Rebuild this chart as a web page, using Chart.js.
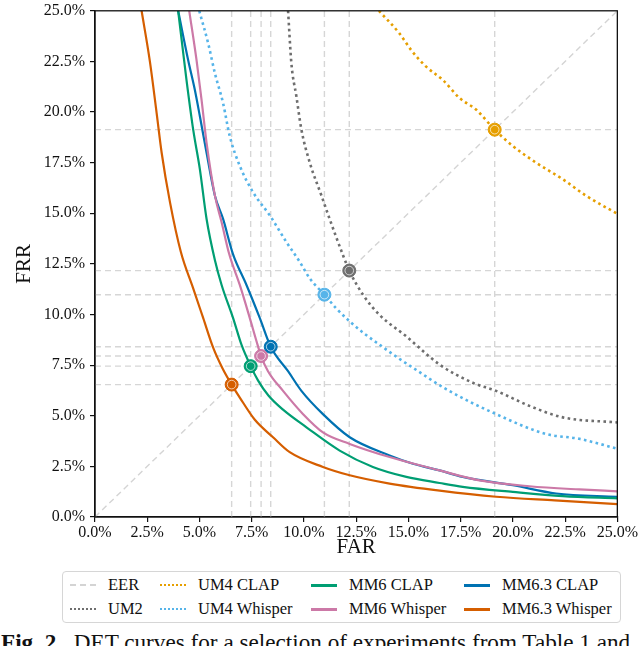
<!DOCTYPE html>
<html lang="en">
<head>
    <meta charset="UTF-8">
    <title>DET curves</title>
    <script src="https://cdn.jsdelivr.net/npm/chart.js"></script>
    <style>
        body {
            margin: 0;
            width: 640px;
            height: 646px;
            overflow: hidden;
            background: white;
            font-family: "Liberation Serif", "Times New Roman", serif;
            position: relative;
        }
        #wrap {
            position: absolute;
            left: 0;
            top: -3px;
            width: 640px;
            height: 563px;
        }
        #legend {
            position: absolute;
            left: 62px;
            top: 571px;
            width: 557px;
            height: 50px;
            border: 1px solid #d6d6d6;
            border-radius: 4px;
        }
        .item {
            position: absolute;
            font-family: "Liberation Serif", "Times New Roman", serif;
            font-size: 16.5px;
            line-height: 18px;
            color: #111;
            white-space: nowrap;
        }
        .sample {
            position: absolute;
            width: 26px;
            top: 8px;
        }
        .caption {
            position: absolute;
            left: 1px;
            top: 631px;
            font-family: "Liberation Serif", "Times New Roman", serif;
            font-size: 23.2px;
            line-height: 1;
            white-space: nowrap;
            color: #111;
        }
    </style>
</head>
<body>
    <div id="wrap"><canvas id="det"></canvas></div>
    <div id="legend"></div>
    <div class="caption"><b>Fig. 2.</b>&nbsp; DET curves for a selection of experiments from Table 1 and</div>

    <script>
        // values, in percent
        const um2Far = [9.24, 9.40, 9.64, 9.88, 10.28, 10.84, 11.23, 11.87, 12.17, 12.83, 13.62, 14.9, 16.49, 18.08, 19.2, 20.79, 22.39, 25.0];
        const um2Frr = [25.0, 22.40, 20.77, 19.13, 17.5, 15.87, 14.72, 12.93, 12.17, 10.97, 9.98, 8.92, 7.53, 6.63, 6.23, 5.49, 4.92, 4.67];

        const um4ClapFar = [13.59, 14.58, 15.14, 15.85, 16.65, 17.45, 18.25, 19.13, 20.0, 21.11, 22.39, 23.5, 25.0];
        const um4ClapFrr = [25.0, 23.87, 23.05, 22.24, 21.58, 20.69, 20.11, 19.13, 18.32, 17.5, 16.68, 15.87, 14.97];

        const um4WhisperFar = [4.99, 5.42, 5.74, 6.13, 6.45, 6.93, 7.57, 8.37, 9.16, 9.8, 10.28, 10.98, 11.55, 12.19, 12.9, 13.7, 14.5, 15.22, 16.81, 19.2, 21.59, 23.18, 25.0];
        const um4WhisperFrr = [25.0, 23.38, 21.91, 20.44, 18.81, 17.34, 16.03, 14.89, 13.58, 12.6, 11.78, 10.98, 10.3, 9.66, 9.05, 8.45, 7.86, 7.37, 6.31, 5.08, 4.10, 3.86, 3.37];

        const mm6ClapFar = [3.98, 4.38, 4.70, 5.02, 5.34, 5.74, 6.06, 6.61, 7.01, 7.45, 7.8, 8.3, 9.0, 10.12, 11.71, 13.3, 14.9, 16.49, 17.6, 20.0, 22.39, 25.0];
        const mm6ClapFrr = [25.0, 21.58, 19.13, 17.17, 14.72, 12.68, 11.46, 9.82, 8.51, 7.45, 6.75, 6.0, 5.3, 4.43, 3.28, 2.47, 1.98, 1.68, 1.49, 1.24, 1.03, 0.92];

        const mm6WhisperFar = [4.51, 4.86, 5.1, 5.34, 5.74, 6.06, 6.42, 6.93, 7.41, 7.73, 7.95, 8.28, 9.0, 9.96, 10.91, 12.19, 14.1, 16.49, 18.4, 20.79, 23.18, 25.0];
        const mm6WhisperFrr = [25.0, 22.56, 20.60, 18.48, 15.87, 14.56, 13.0, 11.46, 9.82, 8.68, 7.95, 7.2, 6.23, 5.08, 4.18, 3.61, 2.96, 2.30, 1.81, 1.52, 1.36, 1.27];

        const mm63ClapFar = [3.98, 4.46, 4.78, 5.02, 5.34, 5.74, 6.13, 6.6, 7.25, 7.89, 8.41, 9.24, 9.88, 10.91, 12.19, 14.1, 15.22, 16.49, 17.6, 20.0, 22.07, 25.0];
        const mm63ClapFrr = [25.0, 22.56, 21.09, 19.79, 17.99, 15.87, 14.72, 13.0, 11.46, 9.82, 8.41, 7.2, 6.23, 5.08, 3.94, 3.04, 2.63, 2.30, 1.98, 1.57, 1.16, 1.0];

        const mm63WhisperFar = [2.23, 2.63, 2.95, 3.19, 3.59, 4.11, 4.70, 5.18, 5.66, 6.1, 6.54, 6.93, 7.65, 8.52, 9.32, 10.91, 12.19, 14.1, 16.5, 19.2, 22.0, 25.0];
        const mm63WhisperFrr = [25.0, 22.48, 19.95, 17.99, 15.54, 13.09, 11.29, 9.82, 8.35, 7.35, 6.54, 5.90, 4.80, 3.94, 3.20, 2.47, 2.06, 1.65, 1.30, 1.0, 0.82, 0.64];

        const seriesNames = ['UM2', 'UM4 CLAP', 'UM4 Whisper', 'MM6 CLAP', 'MM6 Whisper', 'MM6.3 CLAP', 'MM6.3 Whisper'];
        const eerValues = [12.17, 19.13, 10.98, 7.45, 7.95, 8.41, 6.54];
        const axisTicks = [0, 2.5, 5, 7.5, 10, 12.5, 15, 17.5, 20, 22.5, 25];

        const series = [
            { far: um2Far, frr: um2Frr, color: '#6e6e6e', dotted: true },
            { far: um4ClapFar, frr: um4ClapFrr, color: '#E69F00', dotted: true },
            { far: um4WhisperFar, frr: um4WhisperFrr, color: '#56B4E9', dotted: true },
            { far: mm6ClapFar, frr: mm6ClapFrr, color: '#009E73', dotted: false },
            { far: mm6WhisperFar, frr: mm6WhisperFrr, color: '#CC79A7', dotted: false },
            { far: mm63ClapFar, frr: mm63ClapFrr, color: '#0072B2', dotted: false },
            { far: mm63WhisperFar, frr: mm63WhisperFrr, color: '#D55E00', dotted: false }
        ];

        const toPoints = (xs, ys) => xs.map((x, i) => ({ x: x, y: ys[i] }));
        const guideColor = '#d6d6d6';
        const serif = '"Liberation Serif", "Times New Roman", serif';
        const datasets = [];

        // EER guide lines (lowest layer)
        eerValues.forEach(e => {
            datasets.push({ data: [{ x: e, y: 0 }, { x: e, y: 25 }], showLine: true, borderColor: guideColor, borderWidth: 1.4, borderDash: [6, 4], pointRadius: 0, order: 3 });
            datasets.push({ data: [{ x: 0, y: e }, { x: 25, y: e }], showLine: true, borderColor: guideColor, borderWidth: 1.4, borderDash: [6, 4], pointRadius: 0, order: 3 });
        });
        datasets.push({ data: [{ x: 0, y: 0 }, { x: 25, y: 25 }], showLine: true, borderColor: '#d4d4d4', borderWidth: 1.4, borderDash: [6, 4], pointRadius: 0, order: 3 });

        // curves
        series.forEach((s, i) => {
            datasets.push({
                label: seriesNames[i],
                data: toPoints(s.far, s.frr),
                showLine: true,
                cubicInterpolationMode: 'monotone',
                borderColor: s.color,
                borderWidth: s.dotted ? 2.6 : 2.2,
                borderDash: s.dotted ? [2.6, 3.4] : [],
                pointRadius: 0,
                order: 2
            });
        });

        // EER markers
        series.forEach((s, i) => {
            const p = [{ x: eerValues[i], y: eerValues[i] }];
            datasets.push({ data: p, showLine: false, pointRadius: 6.5, pointBackgroundColor: s.color, pointBorderColor: s.color, pointBorderWidth: 1, order: 1 });
            datasets.push({ data: p, showLine: false, pointRadius: 4.3, pointBackgroundColor: 'rgba(0,0,0,0)', pointBorderColor: 'rgba(255,255,255,0.75)', pointBorderWidth: 0.9, order: 0 });
        });

        const frame = {
            id: 'frame',
            afterDatasetsDraw(chart) {
                const a = chart.chartArea;
                const ctx = chart.ctx;
                ctx.save();
                ctx.strokeStyle = '#111';
                ctx.lineWidth = 1.3;
                ctx.strokeRect(a.left, a.top, a.right - a.left, a.bottom - a.top);
                ctx.restore();
            }
        };

        const pct = v => v.toFixed(1) + '%';
        const tickFont = { family: serif, size: 16, lineHeight: 1.1 };

        new Chart(document.getElementById('det'), {
            type: 'scatter',
            data: { datasets: datasets },
            options: {
                responsive: true,
                maintainAspectRatio: false,
                animation: false,
                events: [],
                layout: { padding: { left: 0, right: 22, top: 0, bottom: 0 } },
                plugins: { legend: { display: false }, tooltip: { enabled: false } },
                elements: { line: { tension: 0, fill: false } },
                scales: {
                    x: {
                        type: 'linear', min: 0, max: 25,
                        afterBuildTicks: sc => { sc.ticks = axisTicks.map(v => ({ value: v })); },
                        afterFit: sc => { sc.height = 43; },
                        ticks: { callback: pct, color: '#111', font: tickFont, padding: 2, maxRotation: 0, autoSkip: false },
                        grid: { drawOnChartArea: false, drawTicks: true, tickLength: 5, color: '#111', lineWidth: 1.2 },
                        border: { display: true, color: '#111', width: 1.3 },
                        title: { display: true, text: 'FAR', color: '#111', font: { family: serif, size: 21 }, padding: { top: 0, bottom: 0 } }
                    },
                    y: {
                        type: 'linear', min: 0, max: 25,
                        afterBuildTicks: sc => { sc.ticks = axisTicks.map(v => ({ value: v })); },
                        afterFit: sc => { sc.width = 95; },
                        ticks: { callback: pct, color: '#111', font: tickFont, padding: 5, autoSkip: false },
                        grid: { drawOnChartArea: false, drawTicks: true, tickLength: 5, color: '#111', lineWidth: 1.2 },
                        border: { display: true, color: '#111', width: 1.3 },
                        title: { display: true, text: 'FRR', color: '#111', font: { family: serif, size: 21 }, padding: { top: 12, bottom: 0 } }
                    }
                }
            },
            plugins: [frame]
        });

        // legend laid out in columns like the figure
        const legendOrder = [['EER', 'UM2'], ['UM4 CLAP', 'UM4 Whisper'], ['MM6 CLAP', 'MM6 Whisper'], ['MM6.3 CLAP', 'MM6.3 Whisper']];
        const colLeft = [7, 97, 248, 401];
        const rowTop = [4, 28];
        const legend = document.getElementById('legend');
        legendOrder.forEach((col, c) => {
            col.forEach((name, r) => {
                let color = '#d4d4d4', style = 'dashed', w = 2;
                const k = seriesNames.indexOf(name);
                if (k >= 0) {
                    color = series[k].color;
                    style = series[k].dotted ? 'dotted' : 'solid';
                    w = series[k].dotted ? 2.6 : 3;
                }
                const item = document.createElement('div');
                item.className = 'item';
                item.style.left = colLeft[c] + 'px';
                item.style.top = rowTop[r] + 'px';
                item.innerHTML = '<span class="sample" style="border-top:' + w + 'px ' + style + ' ' + color + '"></span>' +
                    '<span style="margin-left:38px">' + name + '</span>';
                legend.appendChild(item);
            });
        });
    </script>
</body>
</html>
